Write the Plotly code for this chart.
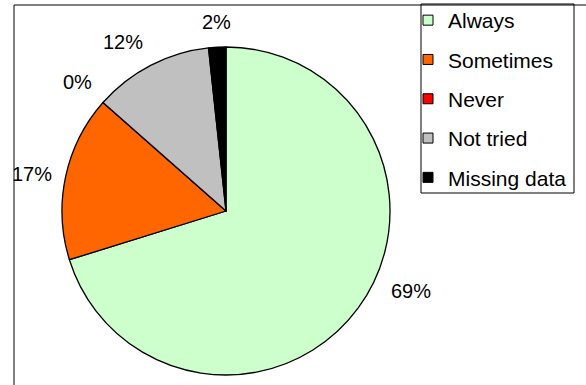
import math
import plotly.graph_objects as go

# Data
categories = ["Always", "Sometimes", "Never", "Not tried", "Missing data"]
values = [70.2, 16.3, 0.0, 11.8, 1.7]
label_text = ["69%", "17%", "0%", "12%", "2%"]

# Styles
colors = ["#CCFFCC", "#FF6600", "#FF0000", "#C0C0C0", "#000000"]
label_angle_nudge = [-14, 0, 0, 0, 0]
FONT = "Liberation Sans, Arial, sans-serif"

W, H = 586, 385
CX, CY, R = 226, 211, 164
GAP = 12

fig = go.Figure()
fig.add_trace(go.Pie(
    labels=categories, values=values, sort=False, direction="clockwise",
    rotation=0, marker=dict(colors=colors, line=dict(color="black", width=1.3)),
    textinfo="none", hoverinfo="label+percent", showlegend=False,
    domain=dict(x=[(CX - R) / W, (CX + R) / W], y=[(H - CY - R) / H, (H - CY + R) / H]),
))

# legend entries
for i, (c, col) in enumerate(zip(categories, colors)):
    fig.add_trace(go.Scatter(
        x=[None], y=[None], mode="markers", name=c, legendgroup=c,
        marker=dict(symbol="square", size=10, color=col, line=dict(color="black", width=1)),
    ))

# labels at slice mid-angles
total = sum(values)
cum = 0.0
annotations = []
for v, t, nudge in zip(values, label_text, label_angle_nudge):
    mid = (cum + v / 2) / total * 360 + nudge
    cum += v
    a = math.radians(mid)
    s, c = math.sin(a), math.cos(a)
    px = CX + (R + GAP) * s
    py = CY - (R + GAP) * c
    xa = "left" if s > 0.3 else ("right" if s < -0.3 else "center")
    ya = "bottom" if c > 0.3 else ("top" if c < -0.3 else "middle")
    annotations.append(dict(
        x=px / W, y=1 - py / H, xref="paper", yref="paper", text=t,
        showarrow=False, xanchor=xa, yanchor=ya,
        font=dict(family=FONT, size=20, color="black"),
    ))

fig.update_layout(
    width=W, height=H, margin=dict(l=0, r=0, t=0, b=0),
    paper_bgcolor="white", plot_bgcolor="white",
    xaxis=dict(visible=False), yaxis=dict(visible=False),
    annotations=annotations,
    shapes=[
        dict(type="rect", xref="paper", yref="paper",
             x0=14 / W, x1=1.2, y0=-0.2, y1=1 - 5 / H,
             line=dict(color="black", width=1), fillcolor="rgba(0,0,0,0)"),
        dict(type="rect", xref="paper", yref="paper",
             x0=421 / W, x1=574 / W, y0=1 - 193 / H, y1=1 - 4 / H,
             line=dict(color="black", width=1), fillcolor="white", layer="below"),
    ],
    legend=dict(
        x=408 / W, y=1.0, xanchor="left", yanchor="top",
        borderwidth=0, bgcolor="rgba(0,0,0,0)",
        font=dict(family=FONT, size=21, color="black"),
        tracegroupgap=9, itemwidth=30,
    ),
)

fig.write_html("out.html")
